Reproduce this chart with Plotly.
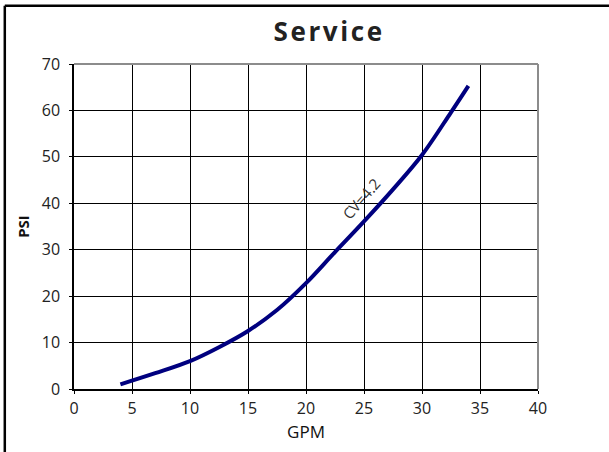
import plotly.graph_objects as go

# Pressure drop curve for the "Service" valve (CV = 4.2)
gpm = [4, 7, 10, 12.5, 15, 17.5, 20, 22.5, 25, 27.5, 30, 32.5, 34]
psi = [1.0, 3.4, 6.0, 9.0, 12.5, 17.0, 22.8, 29.5, 36.1, 43.0, 50.4, 59.6, 65.3]

x_ticks = [0, 5, 10, 15, 20, 25, 30, 35, 40]
y_ticks = [0, 10, 20, 30, 40, 50, 60, 70]

curve_label = "CV=4.2"
label_x, label_y = 24.7, 41.0

FONT = "Open Sans, Noto Sans, DejaVu Sans, sans-serif"
HAIR = "\u200a"

fig = go.Figure()
fig.add_trace(go.Scatter(
    x=gpm, y=psi, mode="lines",
    line=dict(color="#00007f", width=4, shape="spline", smoothing=1.0),
    hoverinfo="skip", showlegend=False,
))

fig.add_annotation(
    x=label_x, y=label_y, text=curve_label, showarrow=False,
    textangle=-49, font=dict(family=FONT, size=15, color="#333333"),
)

axis_common = dict(
    showgrid=True, gridcolor="#000000", gridwidth=1,
    showline=True, linecolor="#000000", linewidth=1.5,
    ticks="outside", ticklen=3, tickcolor="#000000",
    tickfont=dict(family=FONT, size=16, color="#222222"),
    zeroline=False, fixedrange=True,
)

title_text = HAIR.join("Service")

fig.update_layout(
    width=609, height=452,
    margin=dict(l=74, r=71, t=64, b=63),
    paper_bgcolor="white", plot_bgcolor="white",
    title=dict(
        text=f"<b>{title_text}</b>", x=0.547, xref="paper", xanchor="center",
        y=1 - 32 / 452, yanchor="middle",
        font=dict(family=FONT, size=26, color="#222222"),
    ),
    xaxis=dict(range=[0, 40], tickvals=x_ticks, ticklabelstandoff=1,
               title=dict(text="GPM", standoff=8,
                          font=dict(family=FONT, size=17, color="#111111")),
               **axis_common),
    yaxis=dict(range=[0, 70], tickvals=y_ticks, ticklabelstandoff=6,
               title=dict(text="<b>PSI</b>", standoff=9,
                          font=dict(family=FONT, size=15, color="#111111")),
               **axis_common),
    showlegend=False,
)

# Grey top and right edges of the plotting area
fig.add_shape(type="line", xref="paper", yref="paper", x0=0, x1=1, y0=1, y1=1,
              line=dict(color="#8c8c8c", width=2), layer="above")
fig.add_shape(type="line", xref="paper", yref="paper", x0=1, x1=1, y0=0, y1=1,
              line=dict(color="#8c8c8c", width=2), layer="above")

# Outer frame (top and left edges)
pw, ph = 609 - 74 - 71, 452 - 64 - 63
fx = (4.8 - 74) / pw
fy = (389 - 5.7) / ph
fig.add_shape(type="line", xref="paper", yref="paper",
              x0=fx, x1=(620 - 74) / pw, y0=fy, y1=fy,
              line=dict(color="#000000", width=2.5), layer="above")
fig.add_shape(type="line", xref="paper", yref="paper",
              x0=fx, x1=fx, y0=fy, y1=(389 - 470) / ph,
              line=dict(color="#000000", width=2.5), layer="above")

fig.write_html("out.html")
